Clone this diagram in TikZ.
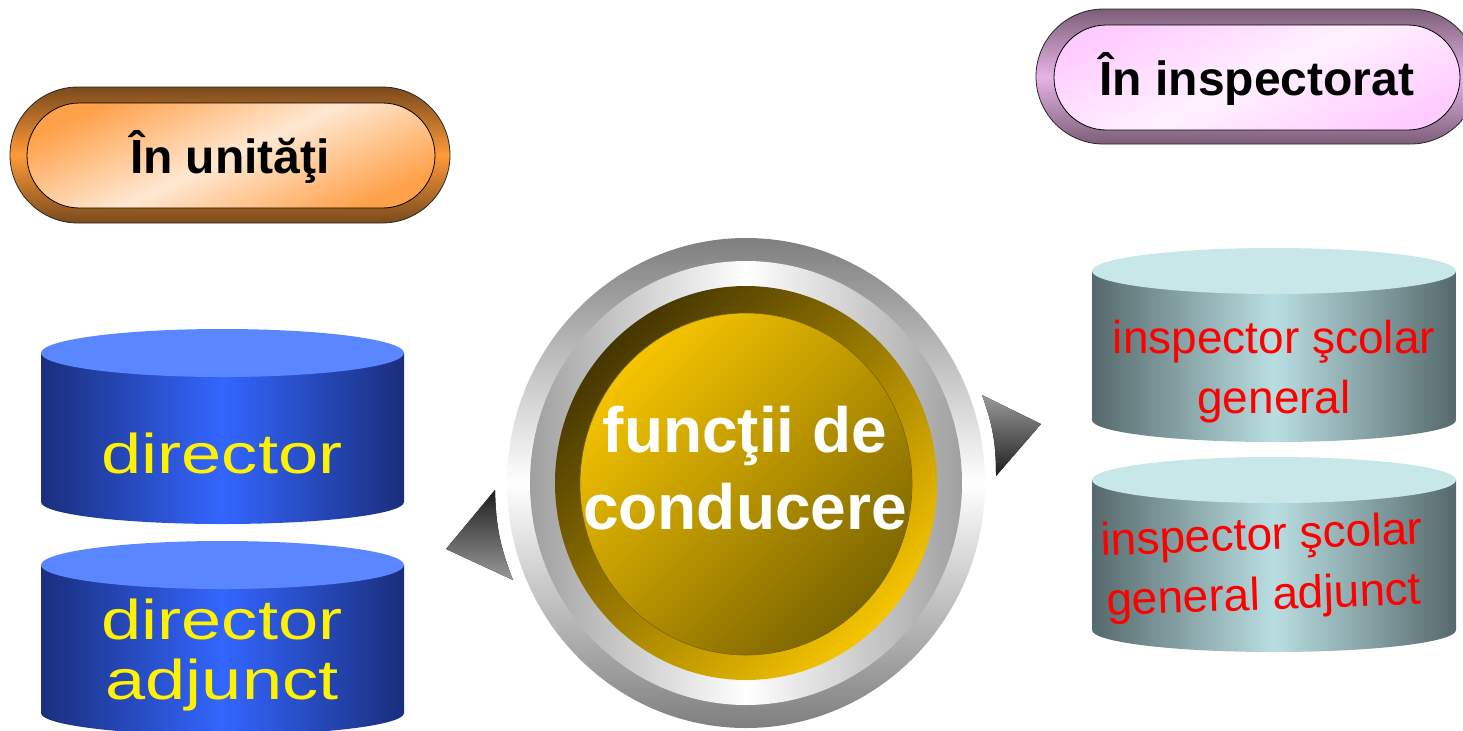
\documentclass[tikz,border=0pt]{standalone}
\usepackage{fontspec}
\setmainfont{Liberation Sans}
\newfontfamily\widefont[FakeStretch=1.29]{Liberation Sans}

\definecolor{pillbrown}{HTML}{7A4A1C}
\definecolor{pillorange}{HTML}{FF9A38}
\definecolor{peach}{HTML}{FFE8D2}
\definecolor{peachdark}{HTML}{FFA14A}
\definecolor{pillplum}{HTML}{7C5E78}
\definecolor{pilllilac}{HTML}{E7B3E6}
\definecolor{pinklight}{HTML}{FFF2FF}
\definecolor{pinkdark}{HTML}{FFCCFF}
\definecolor{navy}{HTML}{1A2E7C}
\definecolor{brightblue}{HTML}{3366FF}
\definecolor{lightblue}{HTML}{5A86FF}
\definecolor{slate}{HTML}{56696C}
\definecolor{paleteal}{HTML}{B9DEE1}
\definecolor{topteal}{HTML}{C8E7E9}
\definecolor{ringgray}{HTML}{7F7F7F}
\definecolor{ringgrey}{HTML}{A0A0A0}
\definecolor{golddark}{HTML}{453600}
\definecolor{goldbright}{HTML}{F5C400}
\definecolor{olive}{HTML}{7C6500}
\definecolor{tridark}{HTML}{1E1E1E}
\definecolor{trilight}{HTML}{9A9A9A}

\begin{document}
\begin{tikzpicture}[x=0.5pt, y=-0.5pt,
pilltext/.style = {% header labels
    font=\fontsize{24}{28}\selectfont\bfseries, anchor=base,
            },
bluebody/.style = {left color=navy, right color=navy, middle color=brightblue},
bluetop/.style  = {fill=lightblue},
tealbody/.style = {left color=slate, right color=slate, middle color=paleteal},
tealtop/.style  = {fill=topteal},
bluetext/.style = {text=yellow, align=center,
    font=\widefont\fontsize{28}{30}\selectfont},
redtext/.style  = {text=red, align=center,
    font=\fontsize{23}{30}\selectfont},
                    ]
  \useasboundingbox (0,0) rectangle (1463,730);

  % headers
  \draw[draw=black!85, top color=pillbrown, bottom color=pillbrown,
      middle color=pillorange, rounded corners=34pt]
      (10,87) rectangle (450,223);
  \draw[draw=black, top color=peachdark, bottom color=peachdark,
      middle color=peach, shading angle=25, rounded corners=26.25pt]
      (27,103) rectangle (435,208);
  \node[pilltext] (unitati) at (230,173) {În unităţi};

  \draw[draw=black!85, top color=pillplum, bottom color=pillplum,
      middle color=pilllilac, rounded corners=33.75pt]
      (1036,9) rectangle (1478,144);
  \draw[draw=black, top color=pinkdark, bottom color=pinkdark,
      middle color=pinklight, shading angle=25, rounded corners=26.25pt]
      (1054,25) rectangle (1460,130);
  \node[pilltext] (inspectorat) at (1257,95) {În inspectorat};

  % cylinders, left
  \path[bluebody] (41,353) -- (41,502)
      arc[start angle=180, end angle=0, x radius=181.5, y radius=22]
      -- (404,353) -- cycle;
  \path[bluetop] (222.5,353) ellipse[x radius=181.5, y radius=24];
  \node[bluetext, anchor=base] (director) at (222,473) {director};

  \path[bluebody] (41,565) -- (41,713)
      arc[start angle=180, end angle=0, x radius=181.5, y radius=22]
      -- (404,565) -- cycle;
  \path[bluetop] (222.5,565) ellipse[x radius=181.5, y radius=24];
  \node[bluetext] (adjunct) at (222,655) {director\\adjunct};

  % cylinders, right
  \path[tealbody] (1092,271) -- (1092,420)
      arc[start angle=180, end angle=0, x radius=182, y radius=22]
      -- (1456,271) -- cycle;
  \path[tealtop] (1274,271) ellipse[x radius=182, y radius=23];
  \node[redtext] (isg) at (1274,372) {inspector şcolar\\general};

  \path[tealbody] (1092,480) -- (1092,630)
      arc[start angle=180, end angle=0, x radius=182, y radius=22]
      -- (1456,480) -- cycle;
  \path[tealtop] (1274,480) ellipse[x radius=182, y radius=23];
  \node[redtext, rotate=2] (isga) at (1263,568) {inspector şcolar\\general adjunct};

  % arrow heads round the ring
  \fill[top color=tridark, bottom color=trilight]
      (495,490) -- (446,549) -- (513,580) to[bend left=10] (495,490) -- cycle;
  \fill[top color=trilight, bottom color=tridark]
      (982,395) -- (1041,424) -- (996,476) to[bend right=10] (982,395) -- cycle;

  % ring
  \path[top color=ringgray, bottom color=ringgray, middle color=white]
      (746,483) ellipse[x radius=239, y radius=245];
  \path[left color=ringgrey, right color=ringgrey, middle color=white]
      (746,483) ellipse[x radius=216, y radius=222];
  \path[top color=golddark, bottom color=goldbright, shading angle=45]
      (746,483) ellipse[x radius=191, y radius=197];
  \draw[draw=olive, line width=0.3pt, top color=goldbright, bottom color=olive,
      shading angle=45]
      (746,484) ellipse[x radius=166, y radius=171];
  \node[text=white, align=center, font=\fontsize{32}{38.5}\selectfont\bfseries]
      (functii) at (745,468) {funcţii de\\conducere};

\end{tikzpicture}
\end{document}
